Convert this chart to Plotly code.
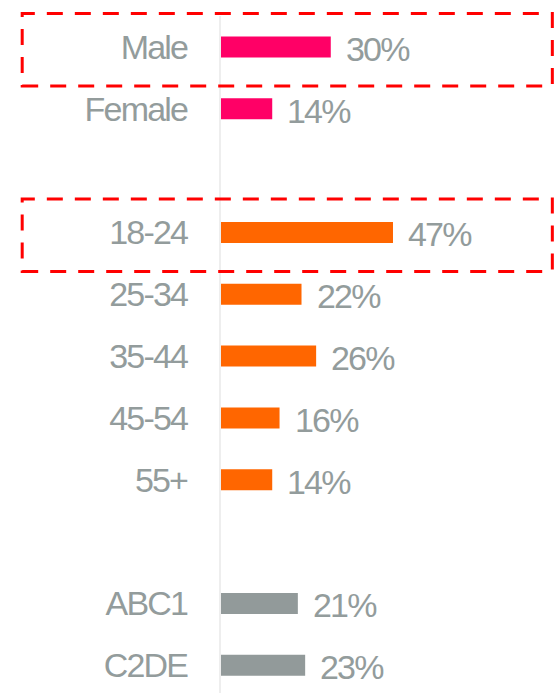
import plotly.graph_objects as go

# ---- data ----
gender_labels = ["Male", "Female"]
gender_values = [30, 14]
age_labels = ["18-24", "25-34", "35-44", "45-54", "55+"]
age_values = [47, 22, 26, 16, 14]
social_labels = ["ABC1", "C2DE"]
social_values = [21, 23]
highlighted = ["Male", "18-24"]

groups = [
    (gender_labels, gender_values, "#FF0066"),
    (age_labels, age_values, "#FF6600"),
    (social_labels, social_values, "#929A9A"),
]

TEXT_GRAY = "#939C9C"
FONT = "Liberation Sans, Arial, sans-serif"
FSIZE = 34


def tight(s):
    return f'<span style="letter-spacing:-1.8px">{s}</span>'


# build category order with one blank spacer between groups
cats, vals, cols = [], [], []
for gi, (labs, vs, c) in enumerate(groups):
    if gi > 0:
        cats.append(" " * gi)
        vals.append(None)
        cols.append("rgba(0,0,0,0)")
    cats.extend(labs)
    vals.extend(vs)
    cols.extend([c] * len(labs))

ticktext = [tight(c) if c.strip() else "" for c in cats]

n = len(cats)
r_bottom, r_top = n - 1 + 0.448, -0.5


def paper_y(v):
    return (r_bottom - v) / (r_bottom - r_top)


fig = go.Figure()
fig.add_trace(go.Bar(
    x=vals, y=cats, orientation="h",
    marker=dict(color=cols, line=dict(width=0)),
    width=0.34, hoverinfo="skip",
))

# value labels
for c, v in zip(cats, vals):
    if v is None:
        continue
    fig.add_annotation(
        x=v, y=c, xref="x", yref="y", text=tight(f"{v}%"), showarrow=False,
        xanchor="left", yanchor="middle", xshift=13, yshift=-2,
        font=dict(family=FONT, size=FSIZE, color=TEXT_GRAY),
    )

# dashed highlight boxes
for h in highlighted:
    i = cats.index(h)
    fig.add_shape(
        type="rect", xref="paper", yref="paper",
        x0=-0.597, x1=0.995, y0=paper_y(i + 0.63), y1=paper_y(i - 0.54),
        line=dict(color="#FF0000", width=3, dash="16px,12px"),
        fillcolor="rgba(0,0,0,0)", layer="above",
    )

fig.update_layout(
    width=554, height=693,
    margin=dict(l=221, r=0, t=16, b=0),
    paper_bgcolor="white", plot_bgcolor="white",
    showlegend=False,
    xaxis=dict(range=[0, 91], visible=False, showgrid=False, zeroline=False),
    yaxis=dict(
        type="category", categoryorder="array", categoryarray=cats,
        tickvals=cats, ticktext=ticktext,
        range=[r_bottom, r_top],
        showgrid=False, zeroline=False,
        showline=True, linecolor="#EEEEEE", linewidth=2,
        ticks="", ticklabelstandoff=25,
        tickfont=dict(family=FONT, size=FSIZE, color=TEXT_GRAY),
    ),
)

fig.write_html(
    "out.html",
    config={"displayModeBar": False, "staticPlot": True},
    post_script="document.body.style.margin='0px';document.body.style.overflow='hidden';",
)
